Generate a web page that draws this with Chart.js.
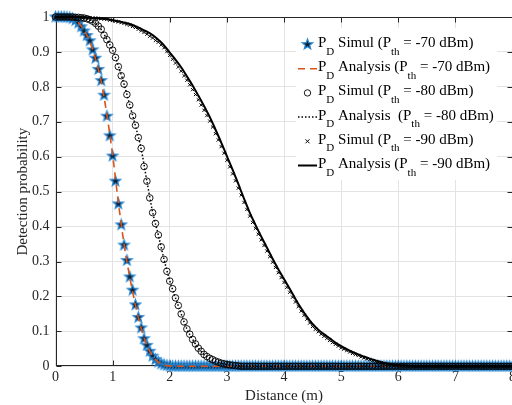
<!DOCTYPE html>
<html lang="en">
<head>
  <meta charset="UTF-8" />
  <title>Detection probability vs distance</title>
  <style>
    html, body {
      margin: 0;
      padding: 0;
      background: #fff;
      overflow: hidden;
    }
    #wrap {
      width: 519px;
      height: 405px;
    }
  </style>
</head>
<body>
  <div id="wrap">
    <canvas id="pdChart" width="519" height="405"></canvas>
  </div>

  <script src="https://cdn.jsdelivr.net/npm/chart.js"></script>
  <script>
    // distances of the simulated points (m)
    const distSim = [
      0,0.05,0.1,0.15,0.2,0.25,0.3,0.35,0.4,0.45,0.5,0.55,0.6,0.65,0.7,0.75,0.8,0.85,0.9,0.95,
      1,1.05,1.1,1.15,1.2,1.25,1.3,1.35,1.4,1.45,1.5,1.55,1.6,1.65,1.7,1.75,1.8,1.85,1.9,1.95,
      2,2.05,2.1,2.15,2.2,2.25,2.3,2.35,2.4,2.45,2.5,2.55,2.6,2.65,2.7,2.75,2.8,2.85,2.9,2.95,
      3,3.05,3.1,3.15,3.2,3.25,3.3,3.35,3.4,3.45,3.5,3.55,3.6,3.65,3.7,3.75,3.8,3.85,3.9,3.95,
      4,4.05,4.1,4.15,4.2,4.25,4.3,4.35,4.4,4.45,4.5,4.55,4.6,4.65,4.7,4.75,4.8,4.85,4.9,4.95,
      5,5.05,5.1,5.15,5.2,5.25,5.3,5.35,5.4,5.45,5.5,5.55,5.6,5.65,5.7,5.75,5.8,5.85,5.9,5.95,
      6,6.05,6.1,6.15,6.2,6.25,6.3,6.35,6.4,6.45,6.5,6.55,6.6,6.65,6.7,6.75,6.8,6.85,6.9,6.95,
      7,7.05,7.1,7.15,7.2,7.25,7.3,7.35,7.4,7.45,7.5,7.55,7.6,7.65,7.7,7.75,7.8,7.85,7.9,7.95,
      8
    ];

    // distances of the analytical curves (m)
    const distAna = [
      0,0.1,0.2,0.3,0.4,0.5,0.6,0.7,0.8,0.9,
      1,1.1,1.2,1.3,1.4,1.5,1.6,1.7,1.8,1.9,
      2,2.1,2.2,2.3,2.4,2.5,2.6,2.7,2.8,2.9,
      3,3.1,3.2,3.3,3.4,3.5,3.6,3.7,3.8,3.9,
      4,4.1,4.2,4.3,4.4,4.5,4.6,4.7,4.8,4.9,
      5,5.1,5.2,5.3,5.4,5.5,5.6,5.7,5.8,5.9,
      6,6.1,6.2,6.3,6.4,6.5,6.6,6.7,6.8,6.9,
      7,7.1,7.2,7.3,7.4,7.5,7.6,7.7,7.8,7.9,
      8
    ];

    // P_D simulated, Pth = -70 dBm
    const simul70 = [
      1,1,1,1,0.999,0.998,0.995,0.99,0.983,0.972,0.96,0.947,0.932,0.906,0.882,0.85,0.818,0.776,0.716,0.66,
      0.602,0.53,0.465,0.405,0.347,0.303,0.256,0.218,0.176,0.14,0.11,0.079,0.06,0.043,0.029,0.019,0.012,0.007,0.004,0.002,
      0.001,0,0,0,0,0,0,0,0,0,0,0,0,0,0,0,0,0,0,0,
      0,0,0,0,0,0,0,0,0,0,0,0,0,0,0,0,0,0,0,0,
      0,0,0,0,0,0,0,0,0,0,0,0,0,0,0,0,0,0,0,0,
      0,0,0,0,0,0,0,0,0,0,0,0,0,0,0,0,0,0,0,0,
      0,0,0,0,0,0,0,0,0,0,0,0,0,0,0,0,0,0,0,0,
      0,0,0,0,0,0,0,0,0,0,0,0,0,0,0,0,0,0,0,0,
      0
    ];

    // P_D simulated, Pth = -80 dBm
    const simul80 = [
      1,1,1,1,1,1,1,0.999,0.999,0.998,0.997,0.995,0.992,0.988,0.982,0.974,0.965,0.948,0.935,0.92,
      0.905,0.884,0.858,0.832,0.808,0.778,0.748,0.717,0.69,0.655,0.624,0.572,0.53,0.482,0.44,0.409,0.376,0.342,0.306,0.272,
      0.244,0.222,0.196,0.174,0.15,0.127,0.107,0.092,0.077,0.064,0.052,0.043,0.034,0.028,0.023,0.019,0.015,0.012,0.009,0.007,
      0.005,0.004,0.003,0.002,0.001,0,0,0,0,0,0,0,0,0,0,0,0,0,0,0,
      0,0,0,0,0,0,0,0,0,0,0,0,0,0,0,0,0,0,0,0,
      0,0,0,0,0,0,0,0,0,0,0,0,0,0,0,0,0,0,0,0,
      0,0,0,0,0,0,0,0,0,0,0,0,0,0,0,0,0,0,0,0,
      0,0,0,0,0,0,0,0,0,0,0,0,0,0,0,0,0,0,0,0,
      0
    ];

    // P_D simulated, Pth = -90 dBm
    const simul90 = [
      1,1,1,1,1,1,1,1,1,0.999,0.999,0.998,0.998,0.997,0.997,0.996,0.995,0.994,0.993,0.991,
      0.99,0.988,0.986,0.984,0.982,0.979,0.977,0.973,0.97,0.965,0.961,0.956,0.951,0.945,0.94,0.933,0.928,0.92,0.912,0.901,
      0.89,0.879,0.868,0.857,0.845,0.832,0.819,0.806,0.792,0.778,0.763,0.748,0.733,0.718,0.702,0.685,0.666,0.648,0.629,0.61,
      0.59,0.571,0.551,0.531,0.51,0.49,0.469,0.449,0.43,0.412,0.395,0.378,0.362,0.346,0.33,0.314,0.298,0.283,0.268,0.254,
      0.24,0.226,0.212,0.198,0.184,0.171,0.158,0.146,0.135,0.124,0.114,0.106,0.099,0.092,0.086,0.08,0.074,0.068,0.063,0.058,
      0.053,0.049,0.045,0.041,0.037,0.034,0.031,0.027,0.024,0.021,0.019,0.016,0.014,0.012,0.01,0.008,0.006,0.005,0.004,0.003,
      0.002,0.001,0,0,0,0,0,0,0,0,0,0,0,0,0,0,0,0,0,0,
      0,0,0,0,0,0,0,0,0,0,0,0,0,0,0,0,0,0,0,0,
      0
    ];

    // P_D analysis curves
    const analysis70 = [
      1,1,0.999,0.995,0.984,0.962,0.93,0.88,0.815,0.72,
      0.605,0.47,0.35,0.255,0.175,0.108,0.06,0.03,0.012,0.004,
      0.001,0,0,0,0,0,0,0,0,0,
      0,0,0,0,0,0,0,0,0,0,
      0,0,0,0,0,0,0,0,0,0,
      0,0,0,0,0,0,0,0,0,0,
      0,0,0,0,0,0,0,0,0,0,
      0,0,0,0,0,0,0,0,0,0,
      0
    ];
    const analysis80 = [
      1,1,1,1,0.999,0.997,0.992,0.982,0.964,0.936,
      0.905,0.86,0.808,0.748,0.688,0.622,0.53,0.442,0.376,0.306,
      0.245,0.196,0.15,0.107,0.077,0.052,0.034,0.023,0.015,0.009,
      0.005,0.003,0.001,0,0,0,0,0,0,0,
      0,0,0,0,0,0,0,0,0,0,
      0,0,0,0,0,0,0,0,0,0,
      0,0,0,0,0,0,0,0,0,0,
      0,0,0,0,0,0,0,0,0,0,
      0
    ];
    const analysis90 = [
      1,1,1,1,1,0.999,0.998,0.997,0.996,0.994,
      0.991,0.988,0.984,0.98,0.974,0.966,0.958,0.948,0.935,0.919,
      0.898,0.878,0.856,0.83,0.804,0.775,0.745,0.714,0.678,0.641,
      0.602,0.563,0.522,0.48,0.44,0.405,0.372,0.34,0.308,0.278,
      0.25,0.222,0.193,0.166,0.142,0.121,0.105,0.092,0.08,0.068,
      0.058,0.049,0.041,0.034,0.028,0.022,0.017,0.012,0.008,0.005,
      0.003,0.002,0.001,0,0,0,0,0,0,0,
      0,0,0,0,0,0,0,0,0,0,
      0
    ];

    const thresholds = ['-70', '-80', '-90'];

    const axisColor = '#262626';
    const serif = '"Liberation Serif", "Times New Roman", serif';

    // filled pentagram used as the simulated -70 dBm marker
    function makeStar(r, fill, stroke) {
      const s = Math.ceil(r * 2 + 4);
      const c = document.createElement('canvas');
      c.width = s;
      c.height = s;
      const g = c.getContext('2d');
      g.beginPath();
      for (let i = 0; i < 10; i++) {
        const rad = i % 2 === 0 ? r : r * 0.42;
        const a = -Math.PI / 2 + i * Math.PI / 5;
        const x = s / 2 + rad * Math.cos(a);
        const y = s / 2 + rad * Math.sin(a);
        if (i === 0) g.moveTo(x, y); else g.lineTo(x, y);
      }
      g.closePath();
      g.fillStyle = fill;
      g.fill();
      g.lineWidth = 1.2;
      g.strokeStyle = stroke;
      g.stroke();
      return c;
    }
    const starImg = makeStar(5.5, '#0b2239', '#2a8ad6');

    const toXY = (xs, ys) => xs.map((x, i) => ({ x: x, y: ys[i] }));

    const datasets = [
      {
        data: toXY(distSim, simul70),
        showLine: false,
        pointStyle: starImg,
        pointRadius: 5,
        order: 6
      },
      {
        data: toXY(distAna, analysis70),
        showLine: true,
        pointRadius: 0,
        borderColor: '#D95319',
        borderWidth: 1.6,
        borderDash: [7, 5],
        cubicInterpolationMode: 'monotone',
        order: 5
      },
      {
        data: toXY(distSim, simul80),
        showLine: false,
        pointStyle: 'circle',
        pointRadius: 3.3,
        pointBorderWidth: 0.9,
        pointBorderColor: '#000',
        pointBackgroundColor: 'rgba(0,0,0,0)',
        order: 4
      },
      {
        data: toXY(distAna, analysis80),
        showLine: true,
        pointRadius: 0,
        borderColor: '#000',
        borderWidth: 1.5,
        borderDash: [1.5, 2],
        cubicInterpolationMode: 'monotone',
        order: 3
      },
      {
        data: toXY(distSim, simul90),
        showLine: false,
        pointStyle: 'crossRot',
        pointRadius: 2.3,
        pointBorderWidth: 1,
        pointBorderColor: '#000',
        order: 2
      },
      {
        data: toXY(distAna, analysis90),
        showLine: true,
        pointRadius: 0,
        borderColor: '#000',
        borderWidth: 2,
        cubicInterpolationMode: 'monotone',
        order: 1
      }
    ];
    datasets.forEach(d => { d.clip = false; });

    // axes box with inward ticks (drawn under the data)
    const boxPlugin = {
      id: 'boxPlugin',
      beforeDatasetsDraw(chart) {
        const { ctx, chartArea: a, scales } = chart;
        const L = Math.round(a.left) + 0.5, R = Math.round(a.right) - 0.5;
        const T = Math.round(a.top) + 0.5, B = Math.round(a.bottom) - 0.5;
        ctx.save();
        ctx.strokeStyle = axisColor;
        ctx.lineWidth = 1;
        ctx.strokeRect(L, T, R - L, B - T);
        ctx.beginPath();
        scales.x.ticks.forEach(t => {
          const px = Math.round(scales.x.getPixelForValue(t.value)) + 0.5;
          ctx.moveTo(px, B); ctx.lineTo(px, B - 5);
          ctx.moveTo(px, T); ctx.lineTo(px, T + 5);
        });
        scales.y.ticks.forEach(t => {
          const py = Math.round(scales.y.getPixelForValue(t.value)) + 0.5;
          ctx.moveTo(L, py); ctx.lineTo(L + 5, py);
          ctx.moveTo(R, py); ctx.lineTo(R - 5, py);
        });
        ctx.stroke();
        ctx.restore();
      }
    };

    // legend with TeX-like subscripts
    const legendPlugin = {
      id: 'texLegend',
      afterDatasetsDraw(chart) {
        const ctx = chart.ctx;
        const bx = 296, by = 28, bw = 201, bh = 152;
        ctx.save();
        ctx.fillStyle = '#fff';
        ctx.fillRect(bx, by, bw, bh);

        const main = '15px ' + serif;
        const sub = '11px ' + serif;
        ctx.textBaseline = 'alphabetic';
        ctx.textAlign = 'left';

        for (let i = 0; i < 6; i++) {
          const base = 47 + 24.2 * i;
          const my = base - 2.5;
          const sx0 = 298, sx1 = 317, mx = 307.5;
          const ds = datasets[i];

          ctx.save();
          if (ds.showLine) {
            ctx.strokeStyle = ds.borderColor;
            ctx.lineWidth = ds.borderWidth;
            ctx.setLineDash(ds.borderDash || []);
            ctx.beginPath();
            ctx.moveTo(sx0, my);
            ctx.lineTo(sx1, my);
            ctx.stroke();
          } else if (ds.pointStyle === starImg) {
            ctx.drawImage(starImg, mx - starImg.width / 2, my - starImg.height / 2);
          } else if (ds.pointStyle === 'circle') {
            ctx.strokeStyle = '#000';
            ctx.lineWidth = 0.9;
            ctx.beginPath();
            ctx.arc(mx, my, 3.2, 0, Math.PI * 2);
            ctx.stroke();
          } else {
            ctx.strokeStyle = '#000';
            ctx.lineWidth = 1;
            ctx.beginPath();
            ctx.moveTo(mx - 2, my - 2); ctx.lineTo(mx + 2, my + 2);
            ctx.moveTo(mx - 2, my + 2); ctx.lineTo(mx + 2, my - 2);
            ctx.stroke();
          }
          ctx.restore();

          const kind = i % 2 === 0 ? ' Simul (P' : (i === 3 ? ' Analysis  (P' : ' Analysis (P');
          const th = thresholds[Math.floor(i / 2)];
          const parts = [
            ['P', main, 0],
            ['D', sub, 7.5],
            [kind, main, 0],
            ['th', sub, 7.5],
            [' = ' + th + ' dBm)', main, 0]
          ];
          let x = 318;
          ctx.fillStyle = '#000';
          parts.forEach(p => {
            ctx.font = p[1];
            ctx.fillText(p[0], x, base + p[2]);
            x += ctx.measureText(p[0]).width;
          });
        }
        ctx.restore();
      }
    };

    const ctx = document.getElementById('pdChart').getContext('2d');
    new Chart(ctx, {
      type: 'scatter',
      data: { datasets },
      options: {
        responsive: false,
        devicePixelRatio: 1,
        animation: false,
        events: [],
        layout: { padding: { top: 17, left: 0, right: 0, bottom: 0 } },
        plugins: {
          legend: { display: false },
          tooltip: { enabled: false }
        },
        scales: {
          x: {
            type: 'linear',
            min: 0,
            max: 8,
            ticks: {
              stepSize: 1,
              color: axisColor,
              padding: 3,
              maxRotation: 0,
              font: { family: serif, size: 14 }
            },
            grid: { color: '#e3e3e3', drawTicks: false },
            border: { display: false },
            title: {
              display: true,
              text: 'Distance (m)',
              color: axisColor,
              font: { family: serif, size: 15 },
              padding: { top: 0, bottom: 0 }
            },
            afterFit(scale) { scale.height = 38.7; }
          },
          y: {
            type: 'linear',
            min: 0,
            max: 1,
            ticks: {
              stepSize: 0.1,
              color: axisColor,
              padding: 6,
              font: { family: serif, size: 14 },
              callback: v => String(Math.round(v * 10) / 10)
            },
            grid: { color: '#e3e3e3', drawTicks: false },
            border: { display: false },
            title: {
              display: true,
              text: 'Detection probability',
              color: axisColor,
              font: { family: serif, size: 15 },
              padding: { top: 14, bottom: 0 }
            },
            afterFit(scale) { scale.width = 55.5; }
          }
        }
      },
      plugins: [boxPlugin, legendPlugin]
    });
  </script>
</body>
</html>
